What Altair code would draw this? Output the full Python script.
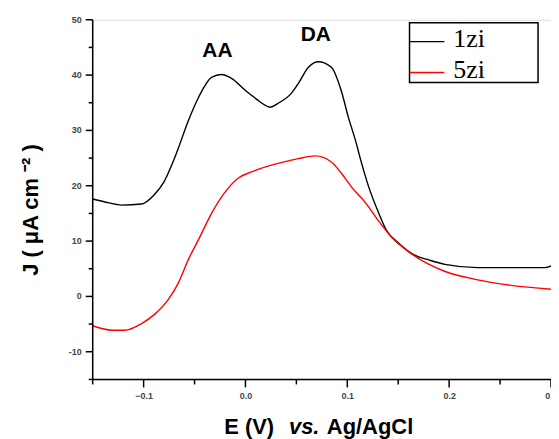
import altair as alt
import pandas as pd

# ---- data ----
E_1zi = [-0.15, -0.134, -0.1216, -0.102, -0.09, -0.08, -0.0725, -0.0667, -0.056, -0.046,
         -0.0333, -0.0235, -0.0137, 0.0, 0.0098, 0.0245, 0.032, 0.045, 0.052, 0.0618,
         0.0716, 0.0843, 0.094, 0.101, 0.108, 0.114, 0.121, 0.131, 0.138, 0.15,
         0.1667, 0.18, 0.196, 0.228, 0.26, 0.294, 0.3]
J_1zi = [17.6, 16.9, 16.5, 16.7, 18.3, 20.7, 23.7, 26.4, 31.8, 36.0,
         39.6, 40.1, 39.4, 37.2, 35.8, 34.2, 34.9, 36.7, 38.5, 41.4,
         42.4, 41.4, 37.2, 32.4, 28.2, 24.1, 19.8, 15.0, 12.1, 9.7,
         7.4, 6.6, 5.8, 5.2, 5.2, 5.2, 5.5]

E_5zi = [-0.15, -0.131, -0.1186, -0.102, -0.089, -0.0755, -0.0657, -0.056, -0.046, -0.033,
         -0.0206, -0.0069, 0.0059, 0.029, 0.042, 0.052, 0.0686, 0.0843, 0.094, 0.104,
         0.118, 0.130, 0.143, 0.160, 0.196, 0.228, 0.261, 0.3]
J_5zi = [-5.3, -6.1, -6.1, -4.9, -3.2, -0.5, 2.5, 6.7, 10.3, 15.1,
         18.7, 21.4, 22.5, 23.9, 24.5, 24.9, 25.4, 24.3, 22.3, 19.8,
         16.9, 13.8, 10.8, 8.1, 4.5, 3.0, 2.0, 1.3]

series_names = ["1zi", "5zi"]
series_colors = ["#000000", "#ff0000"]

x_major = [-0.1, 0.0, 0.1, 0.2, 0.3]
x_minor = [-0.15, -0.05, 0.05, 0.15, 0.25]
y_major = [-10, 0, 10, 20, 30, 40, 50]
y_minor = [-15, -5, 5, 15, 25, 35, 45]

annot_text = ["AA", "DA"]
annot_E = [-0.0275, 0.069]
annot_J = [43.3, 46.2]

x_title_parts = ["E (V)", "vs.", "Ag/AgCl"]
y_title = "J ( μA cm ⁻² )"

# ---- build tables ----
df = pd.concat([
    pd.DataFrame({"E": E_1zi, "J": J_1zi, "series": series_names[0], "order": range(len(E_1zi))}),
    pd.DataFrame({"E": E_5zi, "J": J_5zi, "series": series_names[1], "order": range(len(E_5zi))}),
])
ann = pd.DataFrame({"E": annot_E, "J": annot_J, "t": annot_text})
xmaj_df = pd.DataFrame({"xv": x_major})
ymaj_df = pd.DataFrame({"yv": y_major, "ylab": [f"{v:d}" for v in y_major]})
xmin_df = pd.DataFrame({"xm": x_minor})
ymin_df = pd.DataFrame({"ym": y_minor})

W, H = 460, 361
xscale = alt.Scale(domain=[-0.15, 0.3], nice=False, zero=False)
yscale = alt.Scale(domain=[-15, 50], nice=False, zero=False)

# x tick labels come from a real axis (labels only); the same axis object is used by every layer
x_axis = alt.Axis(
    values=x_major, format=".1f", title=None, grid=False, ticks=False, domain=False,
    labelPadding=12, labelFont="Liberation Sans", labelFontSize=9, labelFontWeight="bold",
    labelColor="#444", labelOverlap=False, labelFlush=False, labelBound=False,
)
X = lambda f: alt.X(f, scale=xscale, axis=x_axis)
Y = lambda f: alt.Y(f, scale=yscale, axis=None)

lines = alt.Chart(df).mark_line(strokeWidth=1.4, interpolate="monotone").encode(
    x=X("E:Q"),
    y=Y("J:Q"),
    color=alt.Color("series:N", scale=alt.Scale(domain=series_names, range=series_colors), legend=None),
    order="order:Q",
)

one = lambda s: pd.DataFrame({"t": [s]})
AX = dict(color="black", strokeWidth=1.5)

# axis lines, ticks and y tick labels
x_domain = alt.Chart(one("x")).mark_rule(**AX).encode(x=alt.value(0), x2=alt.value(W), y=alt.value(H))
y_domain = alt.Chart(one("y")).mark_rule(**AX).encode(x=alt.value(0), y=alt.value(0), y2=alt.value(H))
xmaj_ticks = alt.Chart(xmaj_df).mark_rule(**AX).encode(x=X("xv:Q"), y=alt.value(H), y2=alt.value(H + 8))
xmin_ticks = alt.Chart(xmin_df).mark_rule(**AX).encode(x=X("xm:Q"), y=alt.value(H), y2=alt.value(H + 5))
ymaj_ticks = alt.Chart(ymaj_df).mark_rule(**AX).encode(y=Y("yv:Q"), x=alt.value(-7), x2=alt.value(0))
ymin_ticks = alt.Chart(ymin_df).mark_rule(**AX).encode(y=Y("ym:Q"), x=alt.value(-4), x2=alt.value(0))
LBL = dict(font="Liberation Sans", fontSize=9, fontWeight="bold", color="#444")
ylabels = alt.Chart(ymaj_df).mark_text(align="right", baseline="middle", **LBL).encode(
    y=Y("yv:Q"), x=alt.value(-11), text="ylab:N"
)

annots = alt.Chart(ann).mark_text(
    font="Liberation Sans", fontSize=21, fontWeight="bold", color="black", baseline="alphabetic"
).encode(x=X("E:Q"), y=Y("J:Q"), text="t:N")

ytitle = alt.Chart(one(y_title)).mark_text(
    font="Liberation Sans", fontSize=22, fontWeight="bold", color="black",
    angle=270, align="center", baseline="middle",
).encode(x=alt.value(-62), y=alt.value(191), text="t:N")

xt_x = [132, 197, 235]
xt_style = ["normal", "italic", "normal"]
xtitles = []
for s, px, st in zip(x_title_parts, xt_x, xt_style):
    xtitles.append(
        alt.Chart(one(s)).mark_text(
            font="Liberation Sans", fontSize=22, fontWeight="bold", fontStyle=st,
            color="black", align="left", baseline="alphabetic",
        ).encode(x=alt.value(px), y=alt.value(416), text="t:N")
    )

leg_box = alt.Chart(one("box")).mark_rect(fill="white", stroke="black", strokeWidth=1.5).encode(
    x=alt.value(318), x2=alt.value(447), y=alt.value(3), y2=alt.value(63)
)
leg_items = []
for i, (name, col) in enumerate(zip(series_names, series_colors)):
    leg_items.append(
        alt.Chart(one(name)).mark_rule(color=col, strokeWidth=1.4).encode(
            x=alt.value(318), x2=alt.value(353), y=alt.value(22 + 31 * i)
        )
    )
    leg_items.append(
        alt.Chart(one(name)).mark_text(
            font="Liberation Serif", fontSize=26, color="black", align="left", baseline="alphabetic"
        ).encode(x=alt.value(362), y=alt.value(27 + 31 * i), text="t:N")
    )

chart = alt.layer(
    lines, x_domain, y_domain, xmaj_ticks, xmin_ticks, ymaj_ticks, ymin_ticks,
    annots, ytitle, *xtitles, leg_box, *leg_items, ylabels
).properties(
    width=W, height=H,
    autosize=alt.AutoSizeParams(type="none"),
    padding={"left": 85, "top": 11, "right": 0, "bottom": 59},
).configure_view(stroke=None).configure(background="white")

chart.save("out.html", embed_options={"renderer": "svg", "actions": False})
